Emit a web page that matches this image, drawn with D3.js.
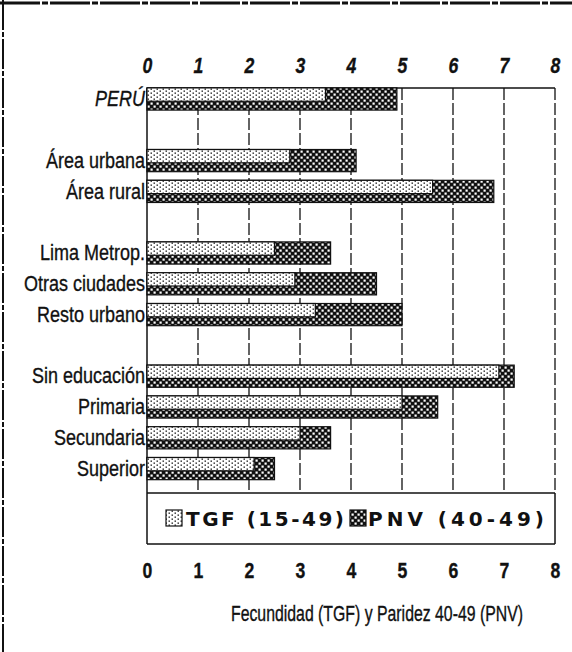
<!DOCTYPE html>
<html>
<head>
<meta charset="utf-8">
<script src="https://cdn.jsdelivr.net/npm/d3@7"></script>
<style>
  html, body { margin: 0; padding: 0; background: #fff; }
  svg { display: block; }
  .lab { font-family: "Liberation Sans", Arial, sans-serif; fill: #111; stroke: #111; stroke-width: 0.35px; }
</style>
</head>
<body>
<svg id="chart" width="572" height="652"></svg>
<script>
// ---- data ----
const categories = ["PERÚ", "Área urbana", "Área rural", "Lima Metrop.", "Otras ciudades", "Resto urbano",
                    "Sin educación", "Primaria", "Secundaria", "Superior"];
const tgf = [3.5, 2.8, 5.6, 2.5, 2.9, 3.3, 6.9, 5.0, 3.0, 2.1];
const pnv = [4.9, 4.1, 6.8, 3.6, 4.5, 5.0, 7.2, 5.7, 3.6, 2.5];
// row order including blank separator rows
const rowOrder = ["PERÚ", "_g1", "Área urbana", "Área rural", "_g2", "Lima Metrop.", "Otras ciudades", "Resto urbano",
                  "_g3", "Sin educación", "Primaria", "Secundaria", "Superior"];
const tickValues = [0, 1, 2, 3, 4, 5, 6, 7, 8];
const legendLabels = ["TGF (15-49)", "PNV (40-49)"];
const xTitle = "Fecundidad (TGF) y Paridez 40-49 (PNV)";

const svg = d3.select("#chart");
const W = 572, H = 652;
const plotTop = 88, plotBottom = 493, legendBottom = 544;
const narrow = 0.8;

const x = d3.scaleLinear().domain([0, 8]).range([147, 555]);
const y = d3.scaleBand().domain(rowOrder).range([83.6, 484]).paddingInner(0.28).paddingOuter(0.14);

// ---- patterns ----
const defs = svg.append("defs");
const pT = defs.append("pattern").attr("id", "pTGF").attr("patternUnits", "userSpaceOnUse")
  .attr("width", 6).attr("height", 4);
pT.append("rect").attr("width", 6).attr("height", 4).attr("fill", "#fff");
pT.append("rect").attr("x", 0.5).attr("y", 0.5).attr("width", 1.5).attr("height", 1.3).attr("fill", "#222");
pT.append("rect").attr("x", 3.5).attr("y", 2.5).attr("width", 1.5).attr("height", 1.3).attr("fill", "#222");

const pP = defs.append("pattern").attr("id", "pPNV").attr("patternUnits", "userSpaceOnUse")
  .attr("width", 6).attr("height", 6);
pP.append("rect").attr("width", 6).attr("height", 6).attr("fill", "#111");
pP.append("rect").attr("x", 0.5).attr("y", 0.5).attr("width", 2.2).attr("height", 2.2).attr("fill", "#fff");
pP.append("rect").attr("x", 3.5).attr("y", 3.5).attr("width", 2.2).attr("height", 2.2).attr("fill", "#fff");

// ---- page border (scan frame) ----
svg.append("line").attr("x1", 0).attr("x2", W).attr("y1", 3).attr("y2", 3)
  .attr("stroke", "#111").attr("stroke-width", 3).attr("stroke-dasharray", "40,2,6,2");
svg.append("line").attr("x1", 3).attr("x2", 3).attr("y1", 0).attr("y2", H)
  .attr("stroke", "#111").attr("stroke-width", 2).attr("stroke-dasharray", "30,2,5,2");

// ---- gridlines ----
svg.append("g").selectAll("line").data(tickValues.filter(d => d > 0)).join("line")
  .attr("x1", d => x(d)).attr("x2", d => x(d))
  .attr("y1", plotTop).attr("y2", plotBottom)
  .attr("stroke", "#111").attr("stroke-width", 1.3)
  .attr("stroke-dasharray", "12,3");

// ---- frame ----
const frame = svg.append("g").attr("stroke", "#111").attr("stroke-width", 1.5).attr("fill", "none");
frame.append("line").attr("x1", x(0)).attr("x2", x(8)).attr("y1", plotTop).attr("y2", plotTop);
frame.append("line").attr("x1", x(0)).attr("x2", x(0)).attr("y1", plotTop).attr("y2", legendBottom);
frame.append("line").attr("x1", x(0)).attr("x2", x(8)).attr("y1", plotBottom).attr("y2", plotBottom);
frame.append("line").attr("x1", x(8)).attr("x2", x(8)).attr("y1", plotBottom).attr("y2", legendBottom);
frame.append("line").attr("x1", x(0)).attr("x2", x(8)).attr("y1", legendBottom).attr("y2", legendBottom);

// ---- bars ----
const rows = categories.map((c, i) => ({ c, tgf: tgf[i], pnv: pnv[i] }));
const bh = y.bandwidth();
const bars = svg.append("g");
bars.selectAll("rect.pnv").data(rows).join("rect").attr("class", "pnv")
  .attr("x", x(0)).attr("y", d => y(d.c))
  .attr("width", d => x(d.pnv) - x(0)).attr("height", bh)
  .attr("fill", "url(#pPNV)").attr("stroke", "#111").attr("stroke-width", 1.2);
bars.selectAll("rect.tgf").data(rows).join("rect").attr("class", "tgf")
  .attr("x", x(0)).attr("y", d => y(d.c))
  .attr("width", d => x(d.tgf) - x(0)).attr("height", bh * 0.6)
  .attr("fill", "url(#pTGF)").attr("stroke", "#111").attr("stroke-width", 1.2);

// ---- category labels (condensed) ----
svg.append("g").selectAll("g").data(rows).join("g")
  .attr("transform", d => `translate(145,${y(d.c) + bh / 2 - 1})`)
  .append("text").attr("class", "lab")
  .attr("transform", `scale(${narrow},1)`)
  .attr("dy", "0.36em").attr("text-anchor", "end")
  .attr("font-size", 22.5)
  .attr("font-style", d => d.c === "PERÚ" ? "italic" : "normal")
  .text(d => d.c);

// ---- axes (tick labels only) ----
const axTop = svg.append("g").attr("transform", `translate(0,${73})`)
  .call(d3.axisTop(x).tickValues(tickValues).tickSize(0).tickPadding(0).tickFormat(d3.format("d")));
axTop.select(".domain").remove();
axTop.selectAll("text").attr("class", "lab").attr("font-size", 22).attr("font-style", "italic")
  .attr("font-weight", "bold")
  .attr("dy", "0").attr("fill", "#111").attr("transform", "scale(0.8,1)");

const axBot = svg.append("g").attr("transform", `translate(0,${578})`)
  .call(d3.axisBottom(x).tickValues(tickValues).tickSize(0).tickPadding(0).tickFormat(d3.format("d")));
axBot.select(".domain").remove();
axBot.selectAll("text").attr("class", "lab").attr("font-size", 22).attr("font-weight", "bold")
  .attr("dy", "0").attr("fill", "#111")
  .attr("transform", "scale(0.8,1)");

// ---- legend ----
const leg = svg.append("g");
const legItems = [
  { label: legendLabels[0], fill: "url(#pTGF)", sx: 166, tx: 186, tw: 158 },
  { label: legendLabels[1], fill: "url(#pPNV)", sx: 350, tx: 368, tw: 176 }
];
leg.selectAll("rect").data(legItems).join("rect")
  .attr("x", d => d.sx).attr("y", 510).attr("width", 16).attr("height", 16)
  .attr("fill", d => d.fill).attr("stroke", "#111").attr("stroke-width", 1.2);
leg.selectAll("text").data(legItems).join("text")
  .attr("x", d => d.tx).attr("y", 526)
  .attr("font-family", "'DejaVu Sans', sans-serif").attr("font-weight", "bold")
  .attr("font-size", 20).attr("fill", "#111")
  .attr("textLength", d => d.tw).attr("lengthAdjust", "spacing")
  .text(d => d.label);

// ---- x title (condensed) ----
svg.append("g").attr("transform", "translate(377,621)")
  .append("text").attr("class", "lab")
  .attr("transform", "scale(0.72,1)")
  .attr("text-anchor", "middle")
  .attr("font-size", 22)
  .text(xTitle);
</script>
</body>
</html>
